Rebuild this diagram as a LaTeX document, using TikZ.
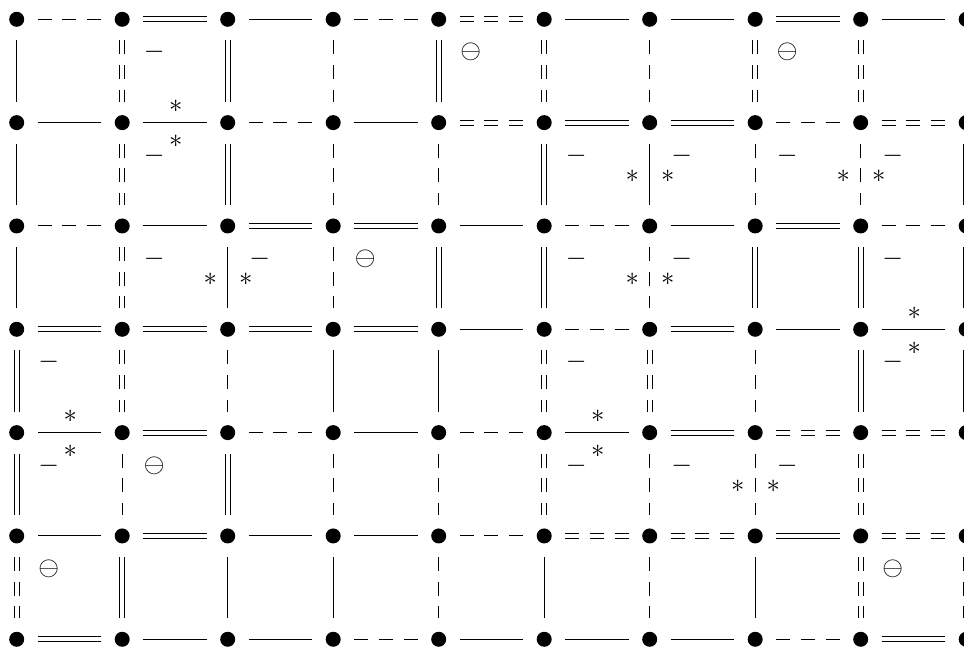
\documentclass[tikz,border=0pt]{standalone}
\begin{document}
\begin{tikzpicture}[x={(0.45pt,0pt)}, y={(0pt,-0.45pt)},
  dot/.style={circle, fill=black, minimum size=6.75pt, inner sep=0pt, outer sep=6.1pt},
  es/.style={line width=0.45pt},
  ed/.style={line width=0.45pt, dash pattern=on 6.3pt off 4.8pt},
  ew/.style={line width=0.45pt, double, double distance=1.8pt},
  ewd/.style={line width=0.45pt, double, double distance=1.8pt, dash pattern=on 6.3pt off 4.8pt},
  lab/.style={inner sep=0pt, font=\fontsize{12}{14}\selectfont}]
\useasboundingbox (0,0) rectangle (964,647);
\clip (0,0) rectangle (964,647);
% dots
\foreach \c in {0,...,9} {
  \foreach \r in {0,...,6} {
    \node[dot] (d\c-\r) at ({16.7+105.5*\c},{19.3+103.33*\r}) {};
  }
}
% horizontal edges
\foreach \c/\r/\t in {
  0/0/ed, 1/0/ew, 2/0/es, 3/0/ed, 4/0/ewd, 5/0/es, 6/0/es, 7/0/ew, 8/0/es,
  0/1/es, 1/1/es, 2/1/ed, 3/1/es, 4/1/ewd, 5/1/ew, 6/1/ew, 7/1/ed, 8/1/ewd,
  0/2/ed, 1/2/es, 2/2/ew, 3/2/ew, 4/2/es, 5/2/ed, 6/2/es, 7/2/ew, 8/2/ed,
  0/3/ew, 1/3/ew, 2/3/ew, 3/3/ew, 4/3/es, 5/3/ed, 6/3/ew, 7/3/es, 8/3/es,
  0/4/es, 1/4/ew, 2/4/ed, 3/4/es, 4/4/ed, 5/4/es, 6/4/ew, 7/4/ewd, 8/4/ewd,
  0/5/es, 1/5/ew, 2/5/es, 3/5/es, 4/5/ed, 5/5/ewd, 6/5/ewd, 7/5/ew, 8/5/ewd,
  0/6/ew, 1/6/es, 2/6/es, 3/6/ed, 4/6/es, 5/6/es, 6/6/es, 7/6/ed, 8/6/ew} {
  \pgfmathtruncatemacro\cc{\c+1}
  \draw[\t] (d\c-\r) -- (d\cc-\r);
}
% vertical edges
\foreach \c/\r/\t in {
  0/0/es, 0/1/es, 0/2/es, 0/3/ew, 0/4/ew, 0/5/ewd,
  1/0/ewd, 1/1/ewd, 1/2/ewd, 1/3/ewd, 1/4/ed, 1/5/ew,
  2/0/ew, 2/1/ew, 2/2/es, 2/3/ed, 2/4/ew, 2/5/es,
  3/0/ed, 3/1/ed, 3/2/ed, 3/3/es, 3/4/ed, 3/5/es,
  4/0/ew, 4/1/ed, 4/2/ew, 4/3/es, 4/4/ed, 4/5/ed,
  5/0/ewd, 5/1/ew, 5/2/ew, 5/3/ewd, 5/4/ewd, 5/5/es,
  6/0/ed, 6/1/es, 6/2/ed, 6/3/ewd, 6/4/ed, 6/5/ed,
  7/0/ewd, 7/1/ed, 7/2/ew, 7/3/ed, 7/4/ed, 7/5/es,
  8/0/ewd, 8/1/ed, 8/2/ew, 8/3/ew, 8/4/ewd, 8/5/ewd,
  9/0/es, 9/1/ew, 9/2/ew, 9/3/ew, 9/4/es, 9/5/ewd} {
  \pgfmathtruncatemacro\rr{\r+1}
  \draw[\t] (d\c-\r) -- (d\c-\rr);
}
% minus labels
\foreach \x/\y [count=\i] in {154.2/52.3, 154.2/155.6, 576.2/155.6, 681.7/155.6,
  787.2/155.6, 892.7/155.6, 154.2/259, 259.7/259, 48.7/362.3, 48.7/465.6,
  576.2/259, 681.7/259, 576.2/362.3, 576.2/465.6, 892.7/259, 892.7/362.3,
  681.7/465.6, 787.2/465.6} {
  \node[lab] (m\i) at (\x,\y) {$-$};
}
% ominus labels
\foreach \x/\y [count=\i] in {470.7/52.3, 787.2/52.3, 365.2/259, 154.2/465.6,
  48.7/569, 892.7/569} {
  \node[lab] (o\i) at (\x,\y) {$\ominus$};
}
% star labels
\foreach \x/\y [count=\i] in {175.7/106.6, 175.7/141.1, 632.2/176.1, 667.7/176.1,
  843.2/176.1, 878.7/176.1, 210.2/279.5, 245.7/279.5, 70.2/416.6, 70.2/451.1,
  632.2/279.5, 667.7/279.5, 597.7/416.6, 597.7/451.1, 914.2/313.3, 914.2/347.8,
  737.7/486.1, 773.2/486.1} {
  \node[lab] (s\i) at (\x,\y) {$*$};
}
\end{tikzpicture}
\end{document}
